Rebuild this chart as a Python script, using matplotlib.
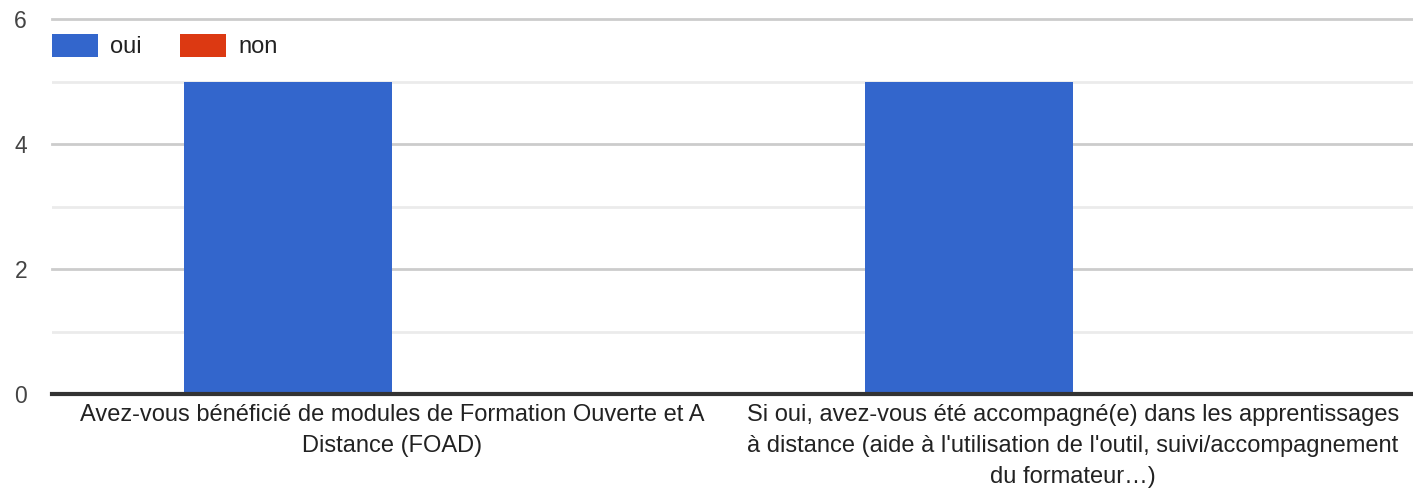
import matplotlib
matplotlib.use("Agg")
import matplotlib.pyplot as plt
import numpy as np
from matplotlib.patches import Patch

categories = [
    "Avez-vous bénéficié de modules de Formation Ouverte et A\nDistance (FOAD)",
    "Si oui, avez-vous été accompagné(e) dans les apprentissages\nà distance (aide à l'utilisation de l'outil, suivi/accompagnement\ndu formateur…)",
]
series_names = ["oui", "non"]
oui = [5, 5]
non = [0, 0]
yticks = [0, 2, 4, 6]

plt.rcParams['font.family'] = ['Liberation Sans', 'DejaVu Sans']

W, H = 1413, 488
fig = plt.figure(figsize=(W / 100, H / 100), dpi=100)
ax = fig.add_axes([52 / W, 1 - 394 / H, (1413 - 52) / W, (394 - 19) / H])

x = np.arange(len(categories))
bw = 0.306
ax.bar(x - bw / 2, oui, bw, color="#3366cc", zorder=3)
ax.bar(x + bw / 2, non, bw, color="#dc3912", zorder=3)

ax.set_xlim(-0.5, 1.5)
ax.set_ylim(0, 6)
for v in [1, 3, 5]:
    ax.axhline(v, color="#ebebeb", lw=2, zorder=1)
for v in [2, 4, 6]:
    ax.axhline(v, color="#cccccc", lw=2, zorder=1, clip_on=False)
ax.axhline(0, color="#333333", lw=3, zorder=4, clip_on=False)

for s in ax.spines.values():
    s.set_visible(False)
ax.set_yticks(yticks)
ax.set_yticklabels([str(v) for v in yticks], fontsize=16.5, color="#444444")
ax.tick_params(axis="y", length=0, pad=18)
ax.set_xticks(x)
ax.set_xticklabels(categories, fontsize=17, color="#222222", linespacing=1.52)
ax.tick_params(axis="x", length=0, pad=7.5)

handles = [Patch(facecolor="#3366cc"), Patch(facecolor="#dc3912")]
leg = fig.legend(handles, series_names, loc="upper left",
                 bbox_to_anchor=(52 / W, 1 - 34 / H), ncol=2, frameon=False,
                 fontsize=17, handlelength=1.95, handleheight=1.1,
                 handletextpad=0.5, columnspacing=1.65, borderpad=0,
                 borderaxespad=0)
for t in leg.get_texts():
    t.set_color("#222222")

fig.savefig("out.png", dpi=100)
